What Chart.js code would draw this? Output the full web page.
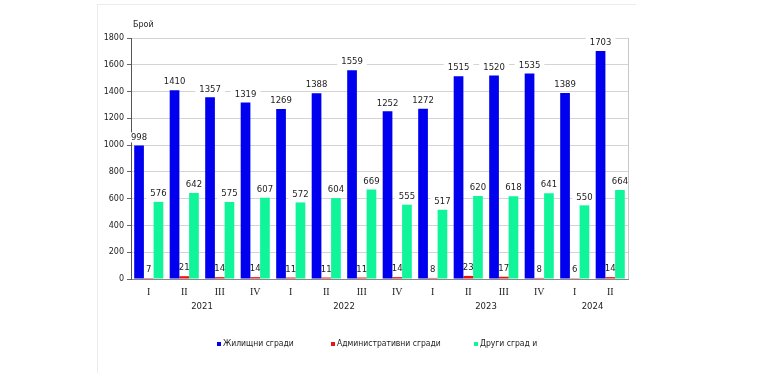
<!DOCTYPE html>
<html>
<head>
<meta charset="utf-8">
<script src="https://cdn.jsdelivr.net/npm/chart.js@4.4.1/dist/chart.umd.min.js"></script>
<style>
  html, body { margin: 0; padding: 0; background: #fff; }
  #wrap { position: relative; width: 768px; height: 376px; }
  #frame { position: absolute; left: 97px; top: 4px; width: 538px; height: 368px;
           border-left: 1px solid #ececec; border-top: 1px solid #ececec; }
  canvas { position: absolute; left: 0; top: 0; }
</style>
</head>
<body>
<div id="wrap">
  <div id="frame"></div>
  <canvas id="chart" width="768" height="376"></canvas>
</div>
<script>
// Данни по тримесечия
const quarters = ['I', 'II', 'III', 'IV', 'I', 'II', 'III', 'IV', 'I', 'II', 'III', 'IV', 'I', 'II'];
const years = ['2021', '2022', '2023', '2024'];
const yearSpans = [4, 4, 4, 2];

const residential = [998, 1410, 1357, 1319, 1269, 1388, 1559, 1252, 1272, 1515, 1520, 1535, 1389, 1703];
const administrative = [7, 21, 14, 14, 11, 11, 11, 14, 8, 23, 17, 8, 6, 14];
const other = [576, 642, 575, 607, 572, 604, 669, 555, 517, 620, 618, 641, 550, 664];

const seriesNames = ['Жилищни сгради', 'Административни сгради', 'Други сград и'];
const seriesColors = ['#0000ee', '#ee1111', '#11f59a'];

const labelFont = '8.5px "DejaVu Sans"';

// Бял фон зад етикетите (под стълбовете), после самият текст
const valueLabels = {
    id: 'valueLabels',
    beforeDatasetsDraw(chart) {
        const ctx = chart.ctx;
        ctx.save();
        ctx.font = labelFont;
        ctx.fillStyle = '#fff';
        chart.data.datasets.forEach(function(ds, i) {
            if (i === 1) return;
            chart.getDatasetMeta(i).data.forEach(function(bar, j) {
                const w = ctx.measureText(String(ds.data[j])).width;
                ctx.fillRect(bar.x - w / 2 - 4, bar.y - 13, w + 8, 10);
            });
        });
        ctx.restore();
    },
    afterDatasetsDraw(chart) {
        const ctx = chart.ctx;
        ctx.save();
        ctx.font = labelFont;
        ctx.textAlign = 'center';
        ctx.textBaseline = 'middle';
        ctx.fillStyle = '#222';
        chart.data.datasets.forEach(function(ds, i) {
            chart.getDatasetMeta(i).data.forEach(function(bar, j) {
                ctx.fillText(String(ds.data[j]), bar.x, bar.y - 8);
            });
        });
        ctx.restore();
    }
};

// Години, рамка, надпис "Брой" и легенда
const extras = {
    id: 'extras',
    afterDraw(chart) {
        const ctx = chart.ctx;
        const xs = chart.scales.x;
        const area = chart.chartArea;
        ctx.save();
        // дясна рамка
        ctx.strokeStyle = '#c8c8c8';
        ctx.lineWidth = 1;
        ctx.beginPath();
        ctx.moveTo(Math.round(area.right) + 0.5, area.top);
        ctx.lineTo(Math.round(area.right) + 0.5, area.bottom);
        ctx.stroke();

        ctx.fillStyle = '#222';
        ctx.font = '8.5px "DejaVu Sans"';
        ctx.textAlign = 'center';
        ctx.textBaseline = 'middle';
        let start = 0;
        years.forEach(function(yr, k) {
            const end = start + yearSpans[k] - 1;
            const cx = (xs.getPixelForValue(start) + xs.getPixelForValue(end)) / 2;
            ctx.fillText(yr, cx, 307);
            start = end + 1;
        });

        ctx.textAlign = 'left';
        ctx.font = '8px "DejaVu Sans"';
        ctx.fillText('Брой', 133, 25);

        // легенда
        const legendX = [217, 331, 474];
        ctx.font = '8.5px "DejaVu Sans Condensed"';
        seriesNames.forEach(function(name, k) {
            ctx.fillStyle = seriesColors[k];
            ctx.fillRect(legendX[k], 342, 4, 4);
            ctx.fillStyle = '#222';
            ctx.fillText(name, legendX[k] + 6, 344);
        });
        ctx.restore();
    }
};

new Chart(document.getElementById('chart').getContext('2d'), {
    type: 'bar',
    data: {
        labels: quarters,
        datasets: [
            { label: seriesNames[0], data: residential, backgroundColor: seriesColors[0] },
            { label: seriesNames[1], data: administrative, backgroundColor: seriesColors[1] },
            { label: seriesNames[2], data: other, backgroundColor: seriesColors[2] }
        ]
    },
    options: {
        responsive: false,
        animation: false,
        layout: { padding: { left: 100, right: 140, top: 38, bottom: 0 } },
        datasets: { bar: { categoryPercentage: 0.82, barPercentage: 1.0 } },
        plugins: {
            legend: { display: false },
            tooltip: { enabled: false }
        },
        scales: {
            x: {
                grid: { display: false, drawTicks: false },
                border: { color: '#888' },
                ticks: {
                    color: '#222',
                    padding: 7,
                    font: { family: '"Liberation Serif"', size: 10 }
                },
                afterFit: function(s) { s.height = 97; }
            },
            y: {
                min: 0,
                max: 1800,
                ticks: {
                    stepSize: 200,
                    color: '#222',
                    padding: 3,
                    font: { family: '"DejaVu Sans"', size: 8 },
                    callback: function(v) { return String(v); }
                },
                grid: { color: '#d4d4d4', tickLength: 4, tickColor: '#666' },
                border: { color: '#555' },
                afterFit: function(s) { s.width = 31; }
            }
        }
    },
    plugins: [valueLabels, extras]
});
</script>
</body>
</html>
